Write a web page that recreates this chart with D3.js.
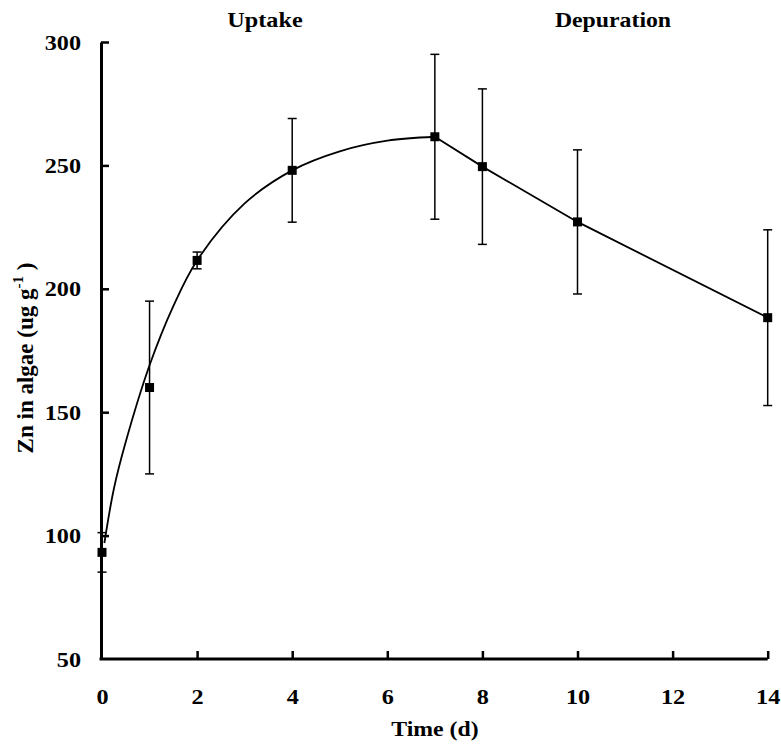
<!DOCTYPE html>
<html>
<head>
<meta charset="utf-8">
<script src="https://cdn.jsdelivr.net/npm/d3@7"></script>
<style>
  body { margin: 0; background: #fff; }
  svg text { font-family: "Liberation Serif", "Times New Roman", serif; font-weight: bold; fill: #000; }
</style>
</head>
<body>
<script>
const times = [0, 1, 2, 4, 7, 8, 10, 14];
const means = [93.2, 160, 211.5, 248, 261.6, 249.5, 227.1, 188.3];
const errs = [8, 35, 3.4, 21, 33.4, 31.5, 29.2, 35.6];

// uptake fit curve as drawn in the figure
const fitTimes = [0.05, 0.25, 0.5, 1, 1.5, 2, 3, 4, 5, 6, 7];
const fitValues = [97, 119, 138, 169, 193, 211.5, 234.6, 248, 255.7, 260, 261.6];

// depuration line joins the measured means
const depTimes = [7, 8, 10, 14];
const depValues = [261.6, 249.5, 227.1, 188.3];

const xTicks = [0, 2, 4, 6, 8, 10, 12, 14];
const yTicks = [50, 100, 150, 200, 250, 300];

const width = 781, height = 748;
const svg = d3.select("body").append("svg")
    .attr("width", width).attr("height", height);

const x = d3.scaleLinear().domain([0, 14]).range([102, 767.7]);
const y = d3.scaleLinear().domain([50, 300]).range([659, 42]);

//the printed type is a bit wider than Liberation Serif, stretch it a little
function stretch(sel, k){
    sel.each(function(){
        const w = this.getComputedTextLength();
        d3.select(this).attr("textLength", w * k).attr("lengthAdjust", "spacingAndGlyphs");
    });
}

//axes
const xAxis = svg.append("g").attr("transform", "translate(0," + y(50) + ")")
    .call(d3.axisBottom(x).tickValues(xTicks).tickSizeInner(-8).tickSizeOuter(0).tickPadding(29));
const yAxis = svg.append("g").attr("transform", "translate(" + (x(0) - 1) + ",0)")
    .call(d3.axisLeft(y).tickValues(yTicks).tickSizeInner(-8).tickSizeOuter(0).tickPadding(20));

[xAxis, yAxis].forEach(function(g){
    g.select(".domain").attr("stroke", "#000").attr("stroke-width", 3);
    g.selectAll(".tick line").attr("stroke", "#000").attr("stroke-width", 2.5);
    g.selectAll(".tick text").attr("font-size", 22).attr("fill", "#000")
        .style("font-family", "'Liberation Serif', 'Times New Roman', serif").style("font-weight", "bold")
        .call(stretch, 1.1);
});
// no tick drawn at the origin
xAxis.selectAll(".tick").filter(function(d){return d === 0;}).select("line").remove();
yAxis.selectAll(".tick").filter(function(d){return d === 50;}).select("line").remove();
xAxis.select(".domain").attr("d", "M" + (x(0) - 2.5) + ",0H" + x(14));

//curves
const line = d3.line().x(function(d){return x(d[0]);}).y(function(d){return y(d[1]);});
svg.append("path")
    .datum(d3.zip(fitTimes, fitValues))
    .attr("fill", "none").attr("stroke", "#000").attr("stroke-width", 1.8)
    .attr("d", line.curve(d3.curveCatmullRom.alpha(0.5)));
svg.append("path")
    .datum(d3.zip(depTimes, depValues))
    .attr("fill", "none").attr("stroke", "#000").attr("stroke-width", 1.8)
    .attr("d", d3.line().x(function(d){return x(d[0]);}).y(function(d){return y(d[1]);}));

//error bars
const pts = times.map(function(t, i){ return {t: t, m: means[i], e: errs[i]}; });
const eb = svg.append("g").attr("stroke", "#000").attr("stroke-width", 1.5);
eb.selectAll("line.v").data(pts).enter().append("line")
    .attr("x1", function(d){return x(d.t);}).attr("x2", function(d){return x(d.t);})
    .attr("y1", function(d){return y(d.m - d.e);}).attr("y2", function(d){return y(d.m + d.e);});
eb.selectAll("line.top").data(pts).enter().append("line")
    .attr("x1", function(d){return x(d.t) - 4.5;}).attr("x2", function(d){return x(d.t) + 4.5;})
    .attr("y1", function(d){return y(d.m + d.e);}).attr("y2", function(d){return y(d.m + d.e);});
eb.selectAll("line.bot").data(pts).enter().append("line")
    .attr("x1", function(d){return x(d.t) - 4.5;}).attr("x2", function(d){return x(d.t) + 4.5;})
    .attr("y1", function(d){return y(d.m - d.e);}).attr("y2", function(d){return y(d.m - d.e);});

//markers
svg.append("g").selectAll("rect").data(pts).enter().append("rect")
    .attr("x", function(d){return x(d.t) - 4.5;})
    .attr("y", function(d){return y(d.m) - 4.5;})
    .attr("width", 9).attr("height", 9).attr("fill", "#000");

//labels
svg.append("text").attr("x", 265).attr("y", 27).attr("text-anchor", "middle")
    .attr("font-size", 22).text("Uptake").call(stretch, 1.1);
svg.append("text").attr("x", 613).attr("y", 27).attr("text-anchor", "middle")
    .attr("font-size", 22).text("Depuration").call(stretch, 1.08);
svg.append("text").attr("x", 435).attr("y", 736).attr("text-anchor", "middle")
    .attr("font-size", 22).text("Time (d)").call(stretch, 1.08);

const yt = svg.append("text").attr("transform", "translate(33,358) rotate(-90)")
    .attr("text-anchor", "middle").attr("font-size", 23).attr("fill", "#000");
yt.append("tspan").text("Zn in algae (ug g");
yt.append("tspan").attr("font-size", 15).attr("dy", -10).text("-1");
yt.append("tspan").attr("dy", 10).text(" )");
</script>
</body>
</html>
